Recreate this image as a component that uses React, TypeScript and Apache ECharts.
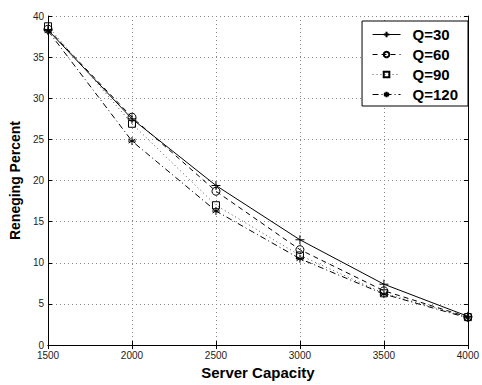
import React, { useEffect, useRef } from "react";
import * as echarts from "echarts";

const capacity = [1500, 2000, 2500, 3000, 3500, 4000];
const q30 = [38.3, 27.5, 19.4, 12.8, 7.4, 3.5];
const q60 = [38.4, 27.7, 18.7, 11.6, 6.6, 3.4];
const q90 = [38.75, 26.9, 17.0, 10.9, 6.3, 3.4];
const q120 = [38.2, 24.8, 16.3, 10.5, 6.2, 3.3];
const seriesNames = ["Q=30", "Q=60", "Q=90", "Q=120"];

const PLUS = "path://M0,5 L10,5 M5,0 L5,10";
const STAR = "path://M5,0 L5,10 M0.7,2.5 L9.3,7.5 M0.7,7.5 L9.3,2.5 M0,5 L10,5";

export default function App() {
  const ref = useRef<HTMLDivElement>(null);
  useEffect(() => {
    document.body.style.margin = "0";
    const chart = echarts.init(ref.current!, null, { renderer: "svg" });
    const font = "Liberation Sans";
    const pair = (vals: number[]) => capacity.map((c, i) => [c, vals[i]]);
    const mk = (
      name: string,
      vals: number[],
      symbol: string,
      size: number,
      lineType: any,
      lineColor: string
    ) => ({
      name,
      type: "line",
      data: pair(vals),
      symbol,
      symbolSize: size,
      showSymbol: true,
      lineStyle: { color: lineColor, width: 1, type: lineType },
      itemStyle: { color: "transparent", borderColor: "#000", borderWidth: 1 },
      emphasis: { disabled: true },
    });
    const axisCommon = {
      type: "value",
      axisLine: { show: true, lineStyle: { color: "#000", width: 1 } },
      axisTick: { show: true, inside: true, length: 4, lineStyle: { color: "#000" } },
    };
    chart.setOption({
      animation: false,
      backgroundColor: "#fff",
      textStyle: { fontFamily: font },
      grid: { left: 41, top: 16, right: 10, bottom: 29, containLabel: false },
      legend: {
        data: seriesNames,
        orient: "vertical",
        right: 14,
        top: 21,
        itemWidth: 28,
        itemHeight: 7,
        itemGap: 5,
        padding: [6, 10, 4, 10],
        backgroundColor: "#fff",
        borderColor: "#000",
        borderWidth: 1,
        lineStyle: { width: 1 },
        textStyle: {
          fontFamily: font,
          fontWeight: "bold",
          fontSize: 15,
          lineHeight: 14,
          color: "#000",
          padding: [0, 0, 0, 7],
        },
      },
      xAxis: [
        {
          ...axisCommon,
          min: 1500,
          max: 4000,
          interval: 500,
          position: "bottom",
          name: "Server Capacity",
          nameLocation: "middle",
          nameGap: 16,
          nameTextStyle: { fontFamily: font, fontWeight: "bold", fontSize: 15, color: "#000" },
          axisLabel: {
            fontFamily: font,
            fontSize: 10,
            color: "#222",
            margin: 5,
            formatter: (v: number) => String(v),
            showMaxLabel: true,
          },
          splitLine: { show: true, lineStyle: { color: "#888", type: [1, 3], width: 1 } },
        },
        {
          ...axisCommon,
          min: 1500,
          max: 4000,
          interval: 500,
          position: "top",
          axisLabel: { show: false },
          splitLine: { show: false },
        },
      ],
      yAxis: [
        {
          ...axisCommon,
          min: 0,
          max: 40,
          interval: 5,
          position: "left",
          name: "Reneging Percent",
          nameLocation: "middle",
          nameGap: 16,
          nameTextStyle: { fontFamily: font, fontWeight: "bold", fontSize: 14, color: "#000" },
          axisLabel: { fontFamily: font, fontSize: 10, color: "#222", margin: 4 },
          splitLine: { show: true, lineStyle: { color: "#888", type: [1, 3], width: 1 } },
        },
        {
          ...axisCommon,
          min: 0,
          max: 40,
          interval: 5,
          position: "right",
          axisLabel: { show: false },
          splitLine: { show: false },
        },
      ],
      series: [
        mk(seriesNames[0], q30, PLUS, 9, "solid", "#000"),
        mk(seriesNames[1], q60, "circle", 8, [5, 4], "#000"),
        mk(seriesNames[2], q90, "rect", 7, [1, 3], "#555"),
        mk(seriesNames[3], q120, STAR, 8, [6, 3, 1, 3], "#000"),
      ],
    });
    return () => chart.dispose();
  }, []);
  return <div ref={ref} style={{ width: 482, height: 385 }} />;
}
